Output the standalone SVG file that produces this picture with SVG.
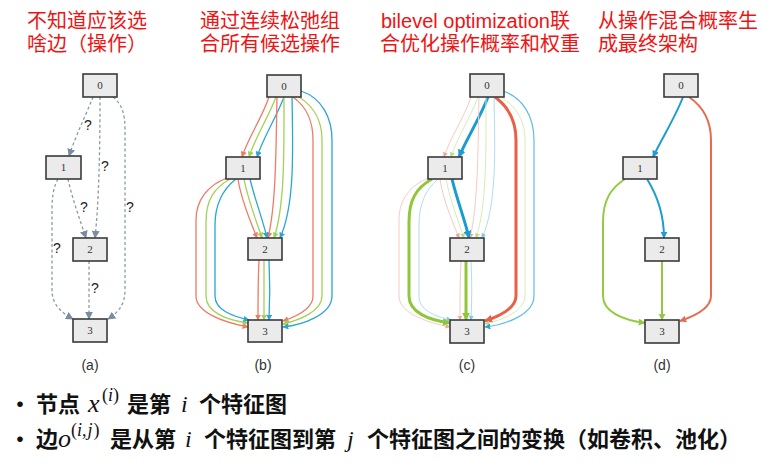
<svg xmlns="http://www.w3.org/2000/svg" width="780" height="465" viewBox="0 0 780 465">
<style>
.title{font-family:"Liberation Sans","Noto Sans CJK SC",sans-serif;font-size:20px;fill:#ee1414}
.node rect{fill:#ebebeb;stroke:#3a3a3a;stroke-width:1.6}
.node text{font-family:"Liberation Serif",serif;font-size:11px;fill:#333;text-anchor:middle}
.cap{font-family:"Liberation Sans",sans-serif;font-size:14px;fill:#333;text-anchor:middle}
.q{font-family:"Liberation Sans",sans-serif;font-size:14px;fill:#222;text-anchor:middle}
.dash{fill:none;stroke:#8a9aac;stroke-width:1.3;stroke-dasharray:3 2.5;marker-end:url(#mg)}
.e{fill:none;stroke-width:1.3}
.r{stroke:#ef7b65;marker-end:url(#mr)}
.g{stroke:#a3d155;marker-end:url(#mgr)}
.b{stroke:#2ba5d6;marker-end:url(#mb)}
.rl{stroke:#f6cbc1;stroke-width:1;marker-end:url(#mrl)}
.gl{stroke:#d6ecb6;stroke-width:1;marker-end:url(#mgl)}
.bl{stroke:#b0ddf0;stroke-width:1;marker-end:url(#mbl)}
.rT{stroke:#ea6047;stroke-width:3;marker-end:url(#mrT)}
.gT{stroke:#90c63a;stroke-width:3;marker-end:url(#mgT)}
.bT{stroke:#1a9bd1;stroke-width:3;marker-end:url(#mbT)}
.rD{stroke:#ea6a50;stroke-width:2;marker-end:url(#mrD)}
.gD{stroke:#95c942;stroke-width:2;marker-end:url(#mgD)}
.bD{stroke:#1d9dd2;stroke-width:2;marker-end:url(#mbD)}
.bot{font-family:"Noto Sans CJK SC","Noto Sans",sans-serif;font-size:22px;font-weight:bold;fill:#111}
.m{font-family:"Liberation Serif",serif;font-style:italic;fill:#111}
</style>
<defs>
<marker id="mg" viewBox="0 0 10 10" refX="9" refY="5" markerWidth="8" markerHeight="8" markerUnits="userSpaceOnUse" orient="auto"><path d="M0,0L10,5L0,10z" fill="#7a8ca0"/></marker>
<marker id="mr" viewBox="0 0 10 10" refX="9" refY="5" markerWidth="6" markerHeight="6" markerUnits="userSpaceOnUse" orient="auto"><path d="M0,0L10,5L0,10z" fill="#ef7b65"/></marker>
<marker id="mgr" viewBox="0 0 10 10" refX="9" refY="5" markerWidth="6" markerHeight="6" markerUnits="userSpaceOnUse" orient="auto"><path d="M0,0L10,5L0,10z" fill="#a3d155"/></marker>
<marker id="mb" viewBox="0 0 10 10" refX="9" refY="5" markerWidth="6" markerHeight="6" markerUnits="userSpaceOnUse" orient="auto"><path d="M0,0L10,5L0,10z" fill="#2ba5d6"/></marker>
<marker id="mrl" viewBox="0 0 10 10" refX="9" refY="5" markerWidth="5" markerHeight="5" markerUnits="userSpaceOnUse" orient="auto"><path d="M0,0L10,5L0,10z" fill="#f2a594"/></marker>
<marker id="mgl" viewBox="0 0 10 10" refX="9" refY="5" markerWidth="5" markerHeight="5" markerUnits="userSpaceOnUse" orient="auto"><path d="M0,0L10,5L0,10z" fill="#b9dd85"/></marker>
<marker id="mbl" viewBox="0 0 10 10" refX="9" refY="5" markerWidth="5" markerHeight="5" markerUnits="userSpaceOnUse" orient="auto"><path d="M0,0L10,5L0,10z" fill="#7cc8e8"/></marker>
<marker id="mrT" viewBox="0 0 10 10" refX="9" refY="5" markerWidth="8" markerHeight="8" markerUnits="userSpaceOnUse" orient="auto"><path d="M0,0L10,5L0,10z" fill="#ea6047"/></marker>
<marker id="mgT" viewBox="0 0 10 10" refX="9" refY="5" markerWidth="8" markerHeight="8" markerUnits="userSpaceOnUse" orient="auto"><path d="M0,0L10,5L0,10z" fill="#90c63a"/></marker>
<marker id="mbT" viewBox="0 0 10 10" refX="9" refY="5" markerWidth="8" markerHeight="8" markerUnits="userSpaceOnUse" orient="auto"><path d="M0,0L10,5L0,10z" fill="#1a9bd1"/></marker>
<marker id="mrD" viewBox="0 0 10 10" refX="9" refY="5" markerWidth="7" markerHeight="7" markerUnits="userSpaceOnUse" orient="auto"><path d="M0,0L10,5L0,10z" fill="#ea6a50"/></marker>
<marker id="mgD" viewBox="0 0 10 10" refX="9" refY="5" markerWidth="7" markerHeight="7" markerUnits="userSpaceOnUse" orient="auto"><path d="M0,0L10,5L0,10z" fill="#95c942"/></marker>
<marker id="mbD" viewBox="0 0 10 10" refX="9" refY="5" markerWidth="7" markerHeight="7" markerUnits="userSpaceOnUse" orient="auto"><path d="M0,0L10,5L0,10z" fill="#1d9dd2"/></marker>
</defs>
<rect width="780" height="465" fill="#fff"/>

<g id="titles">
<text class="title" x="27" y="28">不知道应该选</text>
<text class="title" x="27" y="51">啥边（操作）</text>
<text class="title" x="200" y="28">通过连续松弛组</text>
<text class="title" x="200" y="51">合所有候选操作</text>
<text class="title" x="381" y="28">bilevel optimization联</text>
<text class="title" x="380" y="51">合优化操作概率和权重</text>
<text class="title" x="598" y="28">从操作混合概率生</text>
<text class="title" x="598" y="51">成最终架构</text>
</g>

<!-- Panel (a) -->
<g id="panel-a">
<g id="a-connectors">
<path class="dash" d="M93,97 C86,115 76,135 69,156"/>
<path class="dash" d="M100,97 C100,150 99,200 95,238"/>
<path class="dash" d="M113,97 C122,104 125,114 125,130 L125,290 C125,304 119,312 108,319"/>
<path class="dash" d="M68,179 C72,198 80,220 86,238"/>
<path class="dash" d="M58,179 C53,188 52,198 52,210 L52,290 C52,305 62,313 73,319"/>
<path class="dash" d="M89,261 L89,319"/>
<text class="q" x="88" y="130">?</text>
<text class="q" x="105" y="171">?</text>
<text class="q" x="130" y="212">?</text>
<text class="q" x="84" y="212">?</text>
<text class="q" x="57" y="253">?</text>
<text class="q" x="95" y="293">?</text>
</g>
<g id="a-n0" class="node"><rect x="83" y="74" width="34" height="23"/><text x="100" y="89">0</text></g>
<g id="a-n1" class="node"><rect x="46" y="156" width="35" height="23"/><text x="63.5" y="171">1</text></g>
<g id="a-n2" class="node"><rect x="73" y="238" width="34" height="23"/><text x="90" y="253">2</text></g>
<g id="a-n3" class="node"><rect x="73" y="319" width="34" height="23"/><text x="90" y="334">3</text></g>
<text class="cap" x="90" y="370">(a)</text>
</g>

<!-- Panel (b) -->
<g id="panel-b">
<g id="b-connectors" class="e">
<path class="e r" d="M269,97 C262,118 248,138 242,157"/>
<path class="e g" d="M276,97 C268,118 255,138 249,157"/>
<path class="e b" d="M284,97 C276,118 263,138 257,157"/>
<path class="e r" d="M277,97 C276,150 276,205 268,238"/>
<path class="e g" d="M284,97 C284,150 285,205 274,238"/>
<path class="e b" d="M292,97 C293,150 295,205 280,238"/>
<path class="e r" d="M293,97 C308,108 313,122 313,140 L313,296 C313,308 298,316 283,321"/>
<path class="e g" d="M299,97 C316,108 322,122 322,140 L322,296 C322,311 300,320 283,324"/>
<path class="e b" d="M301,91 C322,98 332,118 332,140 L332,296 C332,315 302,325 283,327"/>
<path class="e r" d="M238,179 C241,200 250,220 257,238"/>
<path class="e g" d="M244,179 C248,200 256,220 262,238"/>
<path class="e b" d="M250,179 C255,200 263,220 267,238"/>
<path class="e r" d="M227,178 C208,185 196,200 196,220 L196,296 C196,312 222,322 248,327"/>
<path class="e g" d="M230,179 C214,188 206,200 206,222 L206,296 C206,312 226,320 248,323"/>
<path class="e b" d="M236,179 C222,190 215,205 215,225 L215,296 C215,310 232,316 249,320"/>
<path class="e r" d="M259,260 C258,280 258,300 258,320"/>
<path class="e g" d="M264,260 L264,320"/>
<path class="e b" d="M269,260 C270,280 270,300 269,320"/>
</g>
<g id="b-n0" class="node"><rect x="267" y="75" width="34" height="22"/><text x="284" y="90">0</text></g>
<g id="b-n1" class="node"><rect x="226" y="157" width="34" height="22"/><text x="243" y="172">1</text></g>
<g id="b-n2" class="node"><rect x="248" y="238" width="34" height="22"/><text x="265" y="253">2</text></g>
<g id="b-n3" class="node"><rect x="248" y="320" width="34" height="22"/><text x="265" y="335">3</text></g>
<text class="cap" x="263" y="370">(b)</text>
</g>

<!-- Panel (c) -->
<g id="panel-c" transform="translate(202,0)">
<g id="c-connectors">
<path class="e rl" d="M269,97 C262,118 248,138 242,157"/>
<path class="e gl" d="M276,97 C268,118 255,138 249,157"/>
<path class="e bT" d="M286,97 C278,118 265,138 257,157"/>
<path class="e rl" d="M277,97 C276,150 276,205 268,238"/>
<path class="e gl" d="M284,97 C284,150 285,205 274,238"/>
<path class="e bl" d="M292,97 C293,150 295,205 280,238"/>
<path class="e rT" d="M293,97 C308,108 314,122 314,140 L314,296 C314,308 298,316 283,321"/>
<path class="e gl" d="M299,97 C316,108 323,122 323,140 L323,296 C323,311 300,320 283,324"/>
<path class="e" style="stroke:#5fbde3;stroke-width:1.2;marker-end:url(#mb)" d="M301,91 C322,98 332,118 332,140 L332,296 C332,315 302,325 283,327"/>
<path class="e rl" d="M238,179 C241,200 250,220 257,238"/>
<path class="e gl" d="M244,179 C248,200 256,220 262,238"/>
<path class="e bT" d="M250,179 C255,200 263,220 267,238"/>
<path class="e rl" d="M227,178 C208,185 197,200 197,220 L197,296 C197,312 222,322 248,327"/>
<path class="e gT" d="M230,179 C214,188 207,200 207,222 L207,296 C207,312 226,320 248,323"/>
<path class="e bl" d="M236,179 C223,190 217,205 217,225 L217,296 C217,310 232,316 249,320"/>
<path class="e rl" d="M259,260 C258,280 258,300 258,320"/>
<path class="e gT" d="M264,260 L264,320"/>
<path class="e bl" d="M269,260 C270,280 270,300 269,320"/>
</g>
<g id="c-n0" class="node"><rect x="268" y="74" width="34" height="23"/><text x="285" y="89">0</text></g>
<g id="c-n1" class="node"><rect x="226" y="157" width="34" height="22"/><text x="243" y="172">1</text></g>
<g id="c-n2" class="node"><rect x="248" y="238" width="34" height="23"/><text x="265" y="253">2</text></g>
<g id="c-n3" class="node"><rect x="248" y="320" width="34" height="23"/><text x="265" y="335">3</text></g>
<text class="cap" x="265" y="370">(c)</text>
</g>

<!-- Panel (d) -->
<g id="panel-d" transform="translate(397,0)">
<g id="d-connectors">
<path class="e bD" d="M286,97 C278,118 265,138 256,157"/>
<path class="e rD" d="M292,97 C308,108 314,122 314,140 L314,296 C314,308 298,316 283,321"/>
<path class="e bD" d="M250,179 C260,195 267,215 267,238"/>
<path class="e gD" d="M228,179 C214,188 206,200 206,222 L206,296 C206,312 226,320 248,323"/>
<path class="e gD" d="M265,261 L265,320"/>
</g>
<g id="d-n0" class="node"><rect x="267" y="74" width="34" height="23"/><text x="284" y="89">0</text></g>
<g id="d-n1" class="node"><rect x="226" y="157" width="34" height="22"/><text x="243" y="172">1</text></g>
<g id="d-n2" class="node"><rect x="248" y="238" width="34" height="23"/><text x="265" y="253">2</text></g>
<g id="d-n3" class="node"><rect x="248" y="320" width="34" height="23"/><text x="265" y="335">3</text></g>
<text class="cap" x="265" y="370">(d)</text>
</g>

<!-- Bottom notes -->
<g id="notes">
<text class="bot" x="9" y="412">•</text>
<text class="bot" x="36" y="412">节点</text>
<text class="m" x="88" y="412" font-size="26">x</text>
<text class="m" x="102" y="401" font-size="18"><tspan font-style="normal">(</tspan>i<tspan font-style="normal">)</tspan></text>
<text class="bot" x="127" y="412">是第</text>
<text class="m" x="181" y="412" font-size="24">i</text>
<text class="bot" x="199" y="412">个特征图</text>

<text class="bot" x="9" y="447">•</text>
<text class="bot" x="36" y="447">边</text>
<text class="m" x="58" y="447" font-size="26">o</text>
<text class="m" x="71" y="436" font-size="18"><tspan font-style="normal">(</tspan>i<tspan font-style="normal">,</tspan><tspan dx="1">j</tspan><tspan font-style="normal" dx="1">)</tspan></text>
<text class="bot" x="110" y="447">是从第</text>
<text class="m" x="185" y="447" font-size="24">i</text>
<text class="bot" x="204" y="447">个特征图到第</text>
<text class="m" x="347" y="447" font-size="24">j</text>
<text class="bot" x="367" y="447">个特征图之间的变换（如卷积、池化）</text>
</g>
</svg>
